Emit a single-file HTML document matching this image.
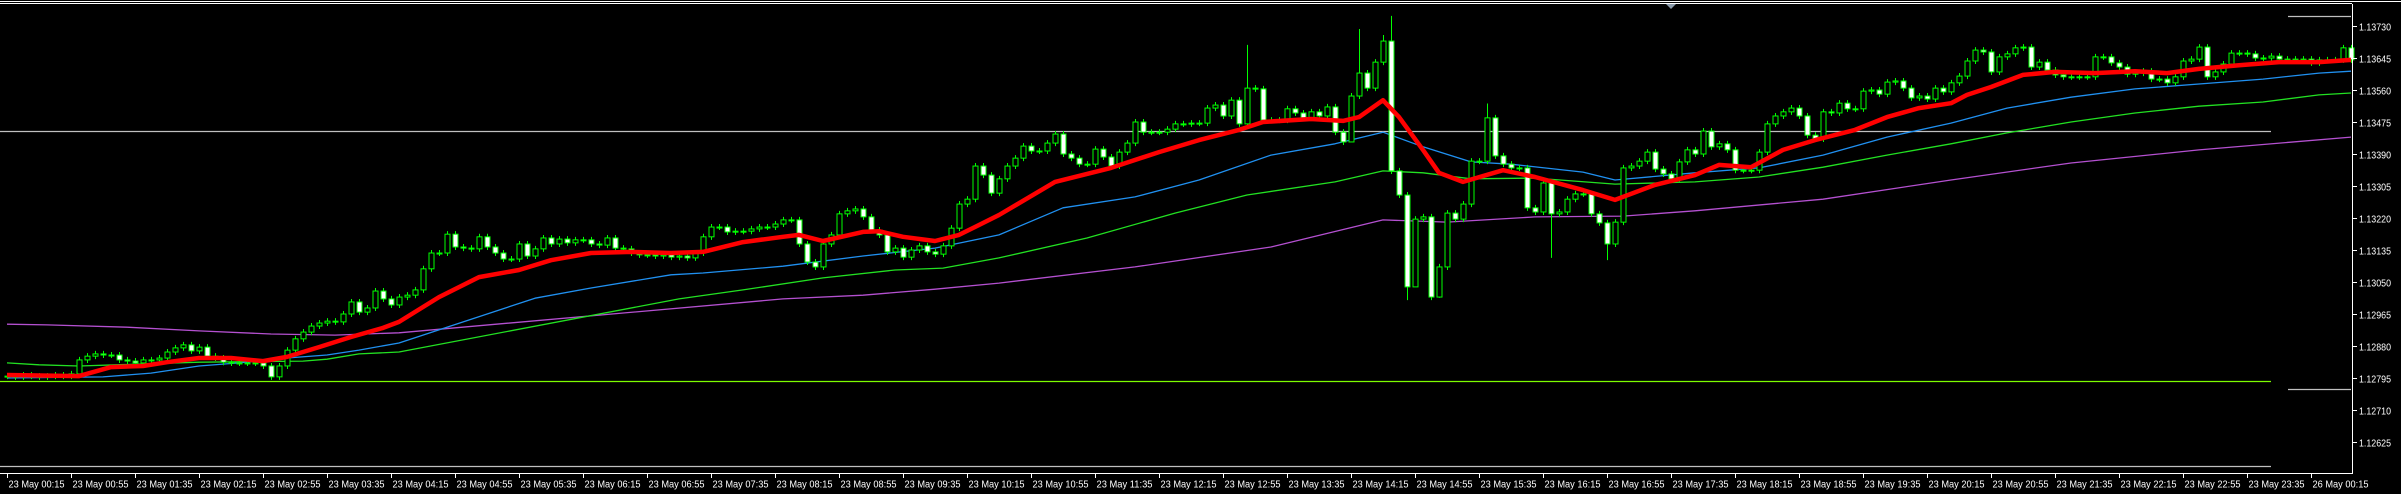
<!DOCTYPE html>
<html><head><meta charset="utf-8"><style>
html,body{margin:0;padding:0;background:#000;overflow:hidden}
svg{display:block}
text{font-family:"Liberation Sans",sans-serif;font-size:10.5px;fill:#fff}
</style></head><body>
<svg id="chart" width="2401" height="494" viewBox="0 0 2401 494" xmlns="http://www.w3.org/2000/svg">
<rect x="0" y="0" width="2401" height="494" fill="#000"/>
<line x1="0" y1="1.5" x2="2401" y2="1.5" stroke="#fff"/>
<line x1="0" y1="3.5" x2="2352" y2="3.5" stroke="#fff"/>
<polygon points="1666,4 1676,4 1671,9" fill="#8a9aaa"/>
<g id="levels"></g>
<g id="mas"></g>
<g id="candles"></g>
<g id="red"></g>
<line x1="2352.5" y1="4" x2="2352.5" y2="473.5" stroke="#fff"/>
<line x1="0" y1="473.5" x2="2353" y2="473.5" stroke="#fff"/>
<g id="yaxis"></g>
<g id="xaxis"></g>
</svg>
<script>
const closes=[1.12800,1.12798,1.12803,1.12800,1.12798,1.12800,1.12803,1.12800,1.12806,1.12843,
1.12853,1.12859,1.12856,1.12856,1.12843,1.12840,1.12835,1.12843,1.12843,1.12848,
1.12864,1.12875,1.12883,1.12867,1.12877,1.12853,1.12848,1.12837,1.12835,1.12835,
1.12835,1.12835,1.12827,1.12798,1.12827,1.12869,1.12899,1.12917,1.12933,1.12941,
1.12946,1.12944,1.12965,1.12997,1.12970,1.12981,1.13026,1.13005,1.12989,1.13010,
1.13015,1.13029,1.13085,1.13127,1.13127,1.13177,1.13143,1.13140,1.13138,1.13170,
1.13143,1.13127,1.13111,1.13111,1.13151,1.13119,1.13138,1.13167,1.13151,1.13164,
1.13154,1.13162,1.13162,1.13151,1.13148,1.13167,1.13140,1.13138,1.13127,1.13122,
1.13122,1.13119,1.13122,1.13116,1.13119,1.13114,1.13127,1.13170,1.13196,1.13196,
1.13183,1.13185,1.13185,1.13191,1.13196,1.13196,1.13204,1.13215,1.13215,1.13151,
1.13103,1.13090,1.13151,1.13175,1.13231,1.13239,1.13244,1.13223,1.13188,1.13175,
1.13130,1.13140,1.13116,1.13135,1.13146,1.13130,1.13124,1.13146,1.13193,1.13257,
1.13270,1.13358,1.13334,1.13286,1.13324,1.13358,1.13379,1.13411,1.13398,1.13398,
1.13419,1.13443,1.13390,1.13379,1.13363,1.13363,1.13403,1.13382,1.13358,1.13395,
1.13419,1.13475,1.13448,1.13448,1.13448,1.13456,1.13470,1.13470,1.13472,1.13472,
1.13512,1.13520,1.13491,1.13533,1.13470,1.13565,1.13563,1.13480,1.13480,1.13480,
1.13510,1.13499,1.13486,1.13502,1.13491,1.13515,1.13448,1.13422,1.13544,1.13605,
1.13565,1.13634,1.13690,1.13345,1.13281,1.13037,1.13217,1.13223,1.13010,1.13090,
1.13233,1.13217,1.13257,1.13371,1.13371,1.13486,1.13385,1.13363,1.13353,1.13353,
1.13247,1.13236,1.13313,1.13231,1.13236,1.13270,1.13284,1.13284,1.13231,1.13207,
1.13151,1.13209,1.13353,1.13358,1.13371,1.13395,1.13350,1.13337,1.13324,1.13369,
1.13401,1.13390,1.13451,1.13409,1.13417,1.13401,1.13347,1.13347,1.13347,1.13395,
1.13470,1.13491,1.13502,1.13512,1.13491,1.13440,1.13430,1.13502,1.13499,1.13525,
1.13510,1.13510,1.13557,1.13560,1.13549,1.13581,1.13584,1.13565,1.13539,1.13544,
1.13536,1.13565,1.13555,1.13579,1.13597,1.13637,1.13666,1.13661,1.13608,1.13648,
1.13656,1.13672,1.13674,1.13621,1.13634,1.13613,1.13600,1.13595,1.13595,1.13595,
1.13595,1.13648,1.13648,1.13632,1.13621,1.13602,1.13605,1.13610,1.13589,1.13589,
1.13579,1.13595,1.13637,1.13642,1.13674,1.13595,1.13608,1.13629,1.13658,1.13658,
1.13656,1.13645,1.13645,1.13650,1.13642,1.13640,1.13642,1.13642,1.13632,1.13640,
1.13640,1.13640,1.13672,1.13640];
const firstOpen=1.12800;
const spikeBars=[155,168,169,172,173,175,176,178,179,185,193,200];
const spikeHigh=[1.13680,null,1.13722,1.13706,1.13757,null,null,null,null,1.13524,null,null];
const spikeLow=[null,1.13432,null,null,null,1.13002,1.13037,1.13002,1.13008,null,1.13114,1.13108];
const wickPad=0.00008;

const redBars=[0,9,13,17,20,24,28,32,35,39,43,47,49,54,59,64,68,73,78,83,87,92,97,99,102,107,109,112,116,119,121,124,131,138,144,149,154,157,163,167,169,172,174,177,179,182,187,191,197,201,206,211,214,218,222,226,231,235,239,243,245,248,252,256,261,266,270,274,279,284,289,293];
const redVals=[1.12803,1.12800,1.12824,1.12827,1.12837,1.12848,1.12848,1.12840,1.12851,1.12877,1.12904,1.12928,1.12944,1.13010,1.13063,1.13082,1.13108,1.13127,1.13130,1.13127,1.13130,1.13156,1.13170,1.13175,1.13159,1.13183,1.13185,1.13170,1.13159,1.13175,1.13196,1.13228,1.13316,1.13353,1.13395,1.13427,1.13454,1.13475,1.13483,1.13478,1.13488,1.13533,1.13488,1.13401,1.13340,1.13316,1.13347,1.13329,1.13294,1.13268,1.13308,1.13334,1.13361,1.13355,1.13401,1.13427,1.13454,1.13488,1.13512,1.13525,1.13547,1.13568,1.13600,1.13608,1.13605,1.13610,1.13605,1.13616,1.13626,1.13634,1.13634,1.13640];
const blueBars=[0,12,18,24,29,35,40,44,49,66,73,83,87,97,107,116,124,132,141,149,158,166,172,177,183,188,197,201,211,219,227,235,243,250,258,266,274,282,289,293];
const blueVals=[1.12795,1.12798,1.12808,1.12827,1.12835,1.12848,1.12856,1.12869,1.12888,1.13007,1.13034,1.13069,1.13074,1.13092,1.13119,1.13140,1.13175,1.13247,1.13276,1.13321,1.13387,1.13417,1.13448,1.13409,1.13369,1.13363,1.13342,1.13321,1.13340,1.13353,1.13387,1.13435,1.13472,1.13512,1.13541,1.13563,1.13576,1.13589,1.13605,1.13610];
const greenBars=[0,4,9,24,37,40,44,49,84,92,102,111,117,124,135,146,155,166,172,177,183,191,201,211,219,227,235,243,250,258,266,274,282,289,293];
const greenVals=[1.12835,1.12830,1.12827,1.12837,1.12840,1.12845,1.12859,1.12864,1.13005,1.13029,1.13061,1.13082,1.13087,1.13114,1.13167,1.13233,1.13281,1.13316,1.13345,1.13340,1.13324,1.13326,1.13310,1.13316,1.13329,1.13355,1.13387,1.13417,1.13446,1.13475,1.13499,1.13517,1.13528,1.13547,1.13552];
const purpleBars=[0,5,15,24,33,41,49,97,107,116,124,141,158,172,180,191,202,211,227,243,258,274,293];
const purpleVals=[1.12938,1.12936,1.12930,1.12920,1.12912,1.12909,1.12915,1.13005,1.13015,1.13031,1.13047,1.13090,1.13143,1.13215,1.13209,1.13223,1.13225,1.13239,1.13270,1.13321,1.13366,1.13401,1.13435];
const priceTicks=[1.13730,1.13645,1.13560,1.13475,1.13390,1.13305,1.13220,1.13135,1.13050,1.12965,1.12880,1.12795,1.12710,1.12625];
const timeLabels=["23 May 00:15","23 May 00:55","23 May 01:35","23 May 02:15","23 May 02:55","23 May 03:35","23 May 04:15","23 May 04:55","23 May 05:35","23 May 06:15","23 May 06:55","23 May 07:35","23 May 08:15","23 May 08:55","23 May 09:35","23 May 10:15","23 May 10:55","23 May 11:35","23 May 12:15","23 May 12:55","23 May 13:35","23 May 14:15","23 May 14:55","23 May 15:35","23 May 16:15","23 May 16:55","23 May 17:35","23 May 18:15","23 May 18:55","23 May 19:35","23 May 20:15","23 May 20:55","23 May 21:35","23 May 22:15","23 May 22:55","23 May 23:35","26 May 00:15"];
const timeLabelBars=[0,8,16,24,32,40,48,56,64,72,80,88,96,104,112,120,128,136,144,152,160,168,176,184,192,200,208,216,224,232,240,248,256,264,272,280,288];

const NS="http://www.w3.org/2000/svg";
const X=i=>7+8*i;
const Y=p=>26+(1.13730-p)/0.00085*32;
function mk(tag,attrs,parent){const e=document.createElementNS(NS,tag);for(const k in attrs)e.setAttribute(k,attrs[k]);parent.appendChild(e);return e;}

const lv=document.getElementById('levels');
[[0,2271,131.5,'#c0c0c0','level-line-upper'],[0,2271,381.5,'#7cfc00','level-line-green'],[0,2271,466.5,'#c0c0c0','level-line-lower'],[2288,2351,16.5,'#c0c0c0','level-line-short-top'],[2288,2351,389.5,'#c0c0c0','level-line-short-bottom']].forEach(a=>{
 const l=mk('line',{x1:a[0],x2:a[1],y1:a[2],y2:a[2],stroke:a[3],'stroke-width':1.3},lv);
 
 
});

const mg=document.getElementById('mas');
function maLine(bars,vals,color,w,name,parent){
 const pts=bars.map((b,k)=>X(b).toFixed(1)+','+Y(vals[k]).toFixed(1)).join(' ');
 const pl=mk('polyline',{points:pts,fill:'none',stroke:color,'stroke-width':w,'stroke-linejoin':'round'},parent);
 
 
}
maLine(purpleBars,purpleVals,'#b450d0',1.3,'ma-purple',mg);
maLine(greenBars,greenVals,'#22e022',1.3,'ma-green',mg);
maLine(blueBars,blueVals,'#2090f0',1.3,'ma-blue',mg);

const cg=document.getElementById('candles');
for(let i=0;i<closes.length;i++){
 const o=i===0?firstOpen:closes[i-1], c=closes[i];
 let hi=Math.max(o,c)+wickPad, lo=Math.min(o,c)-wickPad;
 const s=spikeBars.indexOf(i);
 if(s>=0){ if(spikeHigh[s]!==null)hi=spikeHigh[s]; if(spikeLow[s]!==null)lo=spikeLow[s]; }
 const x=X(i);
 const g=mk('g',{},cg);
 
 
 mk('line',{x1:x+0.5,x2:x+0.5,y1:Y(hi),y2:Y(lo),stroke:'#00ff00','stroke-width':1},g);
 const top=Y(Math.max(o,c)), bot=Y(Math.min(o,c));
 mk('rect',{x:x-2,y:top,width:5,height:Math.max(1,bot-top),fill:c<o?'#ffffff':'#000000',stroke:'#00ff00','stroke-width':1},g);
}

maLine(redBars,redVals,'#ff0000',4.5,'ma-red',document.getElementById('red'));

const ya=document.getElementById('yaxis');
priceTicks.forEach(p=>{
 const y=Math.round(Y(p))+0.5;
 const t=mk('line',{x1:2352,x2:2357,y1:y,y2:y,stroke:'#fff'},ya);
 
 
 const tx=mk('text',{x:2359,y:y+4,textLength:32,lengthAdjust:'spacingAndGlyphs'},ya);
 tx.textContent=p.toFixed(5);
 
 
});
const xa=document.getElementById('xaxis');
timeLabels.forEach((lab,k)=>{
 const x=X(timeLabelBars[k])+0.5;
 const t=mk('line',{x1:x,x2:x,y1:473,y2:478,stroke:'#fff'},xa);
 
 
 const tx=mk('text',{x:x+1,y:487.5,textLength:56,lengthAdjust:'spacingAndGlyphs'},xa);
 tx.textContent=lab;
 
 
});
</script>
</body></html>
